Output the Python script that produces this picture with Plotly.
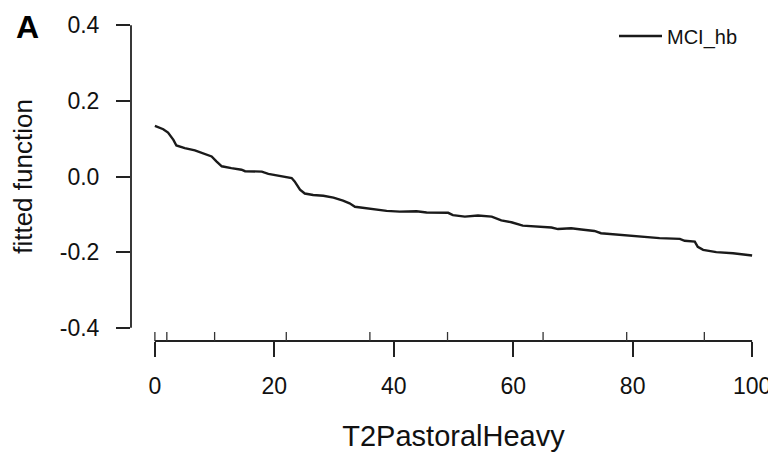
import plotly.graph_objects as go

# fitted smooth
x_vals = [0, 1.4, 2.2, 3.1, 3.6, 5.0, 6.7, 8.1, 9.5, 10.3, 11.2, 12.8, 14.5, 15.1, 17.9, 19.0,
          20.6, 22.9, 23.4, 24.3, 25.1, 26.5, 28.2, 29.9, 31.5, 32.6, 33.5, 35.4, 37.1, 38.8,
          41.0, 43.8, 45.5, 47.7, 49.1, 49.9, 51.1, 51.9, 54.1, 56.4, 58.0, 59.7, 61.6, 64.1,
          66.4, 67.5, 69.7, 71.4, 73.6, 74.7, 77.0, 78.4, 81.7, 84.5, 87.9, 88.7, 90.4, 90.9,
          91.8, 94.0, 96.8, 100.0]
y_vals = [0.134, 0.125, 0.116, 0.097, 0.082, 0.075, 0.069, 0.062, 0.053, 0.040, 0.027, 0.022,
          0.018, 0.014, 0.013, 0.007, 0.002, -0.004, -0.013, -0.035, -0.045, -0.049, -0.051,
          -0.056, -0.064, -0.071, -0.080, -0.084, -0.089, -0.091, -0.093, -0.092, -0.095,
          -0.095, -0.096, -0.102, -0.105, -0.106, -0.103, -0.106, -0.116, -0.121, -0.130,
          -0.133, -0.135, -0.139, -0.137, -0.140, -0.144, -0.150, -0.153, -0.155, -0.160,
          -0.163, -0.165, -0.170, -0.172, -0.186, -0.194, -0.200, -0.203, -0.209]
rug_vals = [0, 2, 10, 22, 36, 49, 65, 79, 92]
x_ticks = [0, 20, 40, 60, 80, 100]
y_ticks = [-0.4, -0.2, 0.0, 0.2, 0.4]
y_tick_text = ["-0.4", "-0.2", "0.0", "0.2", "0.4"]

FONT = "Liberation Sans, Arial, sans-serif"

fig = go.Figure()
fig.add_trace(go.Scatter(x=x_vals, y=y_vals, mode="lines", name="MCI_hb",
                         line=dict(color="#1a1a1a", width=2.4)))

shapes = []
# detached R-style axis lines
shapes.append(dict(type="line", xref="x", yref="paper", x0=x_ticks[0], x1=x_ticks[-1], y0=0, y1=0,
                   line=dict(color="#222", width=1.8)))
shapes.append(dict(type="line", xref="paper", yref="y", x0=0, x1=0, y0=y_ticks[0], y1=y_ticks[-1],
                   line=dict(color="#222", width=1.8)))
# rug
for r in rug_vals:
    shapes.append(dict(type="line", xref="x", yref="paper", x0=r, x1=r, y0=0, y1=9/329,
                       line=dict(color="#333", width=1.3)))

fig.update_layout(
    width=768, height=452,
    margin=dict(l=123, r=0, t=4, b=119),
    paper_bgcolor="white", plot_bgcolor="white",
    font=dict(family=FONT, size=23, color="#111"),
    showlegend=True,
    legend=dict(x=(614-131)/645, y=(341-36)/329, xanchor="left", yanchor="middle",
                bgcolor="rgba(0,0,0,0)", font=dict(size=20), itemwidth=43),
    shapes=shapes,
    xaxis=dict(range=[-4, 104], tickvals=x_ticks, ticks="outside", ticklen=15, tickwidth=1.8,
               tickcolor="#222", showgrid=False, zeroline=False, showline=False,
               ticklabelstandoff=9,
               title=dict(text="T2PastoralHeavy", standoff=28, font=dict(size=29))),
    yaxis=dict(range=[-0.435, 0.435], tickvals=y_ticks, ticktext=y_tick_text, ticks="outside",
               ticklen=14, tickwidth=1.8, tickcolor="#222", showgrid=False, zeroline=False,
               showline=False, ticklabelstandoff=12,
               title=dict(text="fitted function", standoff=22, font=dict(size=26))),
    annotations=[dict(text="<b>A</b>", xref="paper", yref="paper", x=-(131-28)/645, y=(341-27)/329,
                      showarrow=False, font=dict(size=32, color="#000"), xanchor="center",
                      yanchor="middle")],
)

fig.write_html("out.html")
